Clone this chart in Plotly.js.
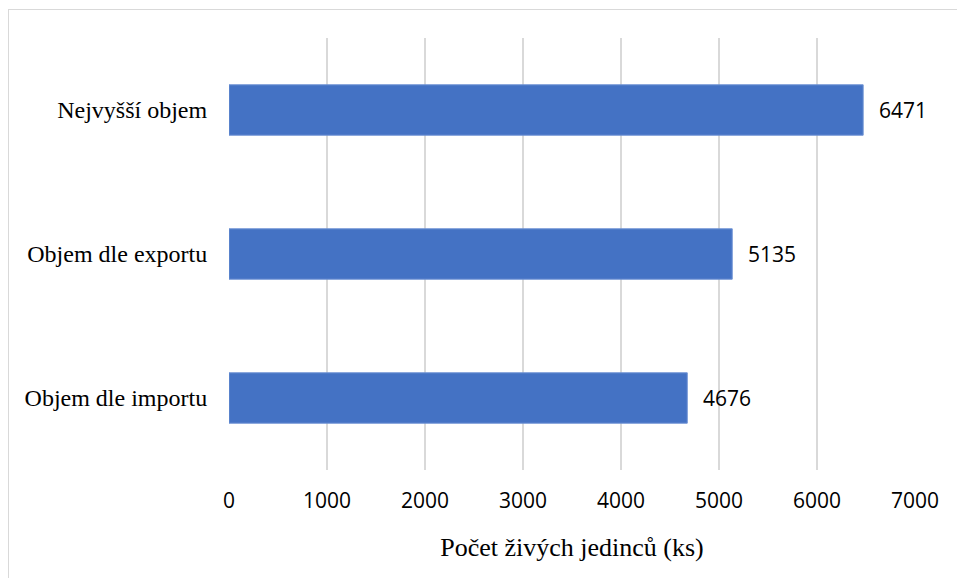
<!DOCTYPE html>
<html><head><meta charset="utf-8">
<script src="https://cdn.plot.ly/plotly-3.0.1.min.js"></script>
<style>
html,body{margin:0;padding:0;background:#fff;overflow:hidden;}
#frame{position:absolute;left:8px;top:9px;width:1200px;height:1200px;border:1px solid #d9d9d9;}
#chart{position:absolute;left:0;top:0;width:957px;height:578px;}
</style></head>
<body>
<div id="frame"></div>
<div id="chart"></div>
<script>
const categories = ["Nejvyšší objem", "Objem dle exportu", "Objem dle importu"];
const values = [6471, 5135, 4676];
const xTicks = [0, 1000, 2000, 3000, 4000, 5000, 6000, 7000];
const xTitle = "Počet živých jedinců (ks)";

const serif = "'Liberation Serif', 'Times New Roman', serif";
const sans = "'Open Sans', sans-serif";

const trace = {
  type: 'bar', orientation: 'h',
  x: values, y: categories,
  width: 0.35,
  marker: {color: '#4472c4', line: {color: '#6f93d4', width: 1}},
  hoverinfo: 'none'
};

const annotations = values.map((v, i) => ({
  x: v, y: categories[i], xref: 'x', yref: 'y',
  text: String(v), showarrow: false, xanchor: 'left', xshift: 14,
  font: {family: sans, size: 21, color: '#000'}
}));

const layout = {
  width: 957, height: 578,
  margin: {l: 229, r: 42, t: 38, b: 108},
  paper_bgcolor: 'rgba(0,0,0,0)', plot_bgcolor: 'rgba(0,0,0,0)',
  showlegend: false,
  xaxis: {
    range: [0, 7000], tickvals: xTicks, ticktext: xTicks.map(String),
    showgrid: true, gridcolor: '#d9d9d9', gridwidth: 2, zeroline: false,
    showline: false, ticks: 'outside', ticklen: 12, tickcolor: 'rgba(0,0,0,0)',
    tickfont: {family: sans, size: 21, color: '#000'},
    title: {text: xTitle, font: {family: serif, size: 26, color: '#000'}, standoff: 24},
    fixedrange: true
  },
  yaxis: {
    categoryorder: 'array', categoryarray: categories, autorange: 'reversed',
    showgrid: false, zeroline: false, showline: false,
    ticks: 'outside', ticklen: 16, tickcolor: 'rgba(0,0,0,0)',
    tickfont: {family: serif, size: 24, color: '#000'},
    fixedrange: true
  },
  annotations: annotations
};

Plotly.newPlot('chart', [trace], layout, {displayModeBar: false, staticPlot: true});
</script>
</body></html>
